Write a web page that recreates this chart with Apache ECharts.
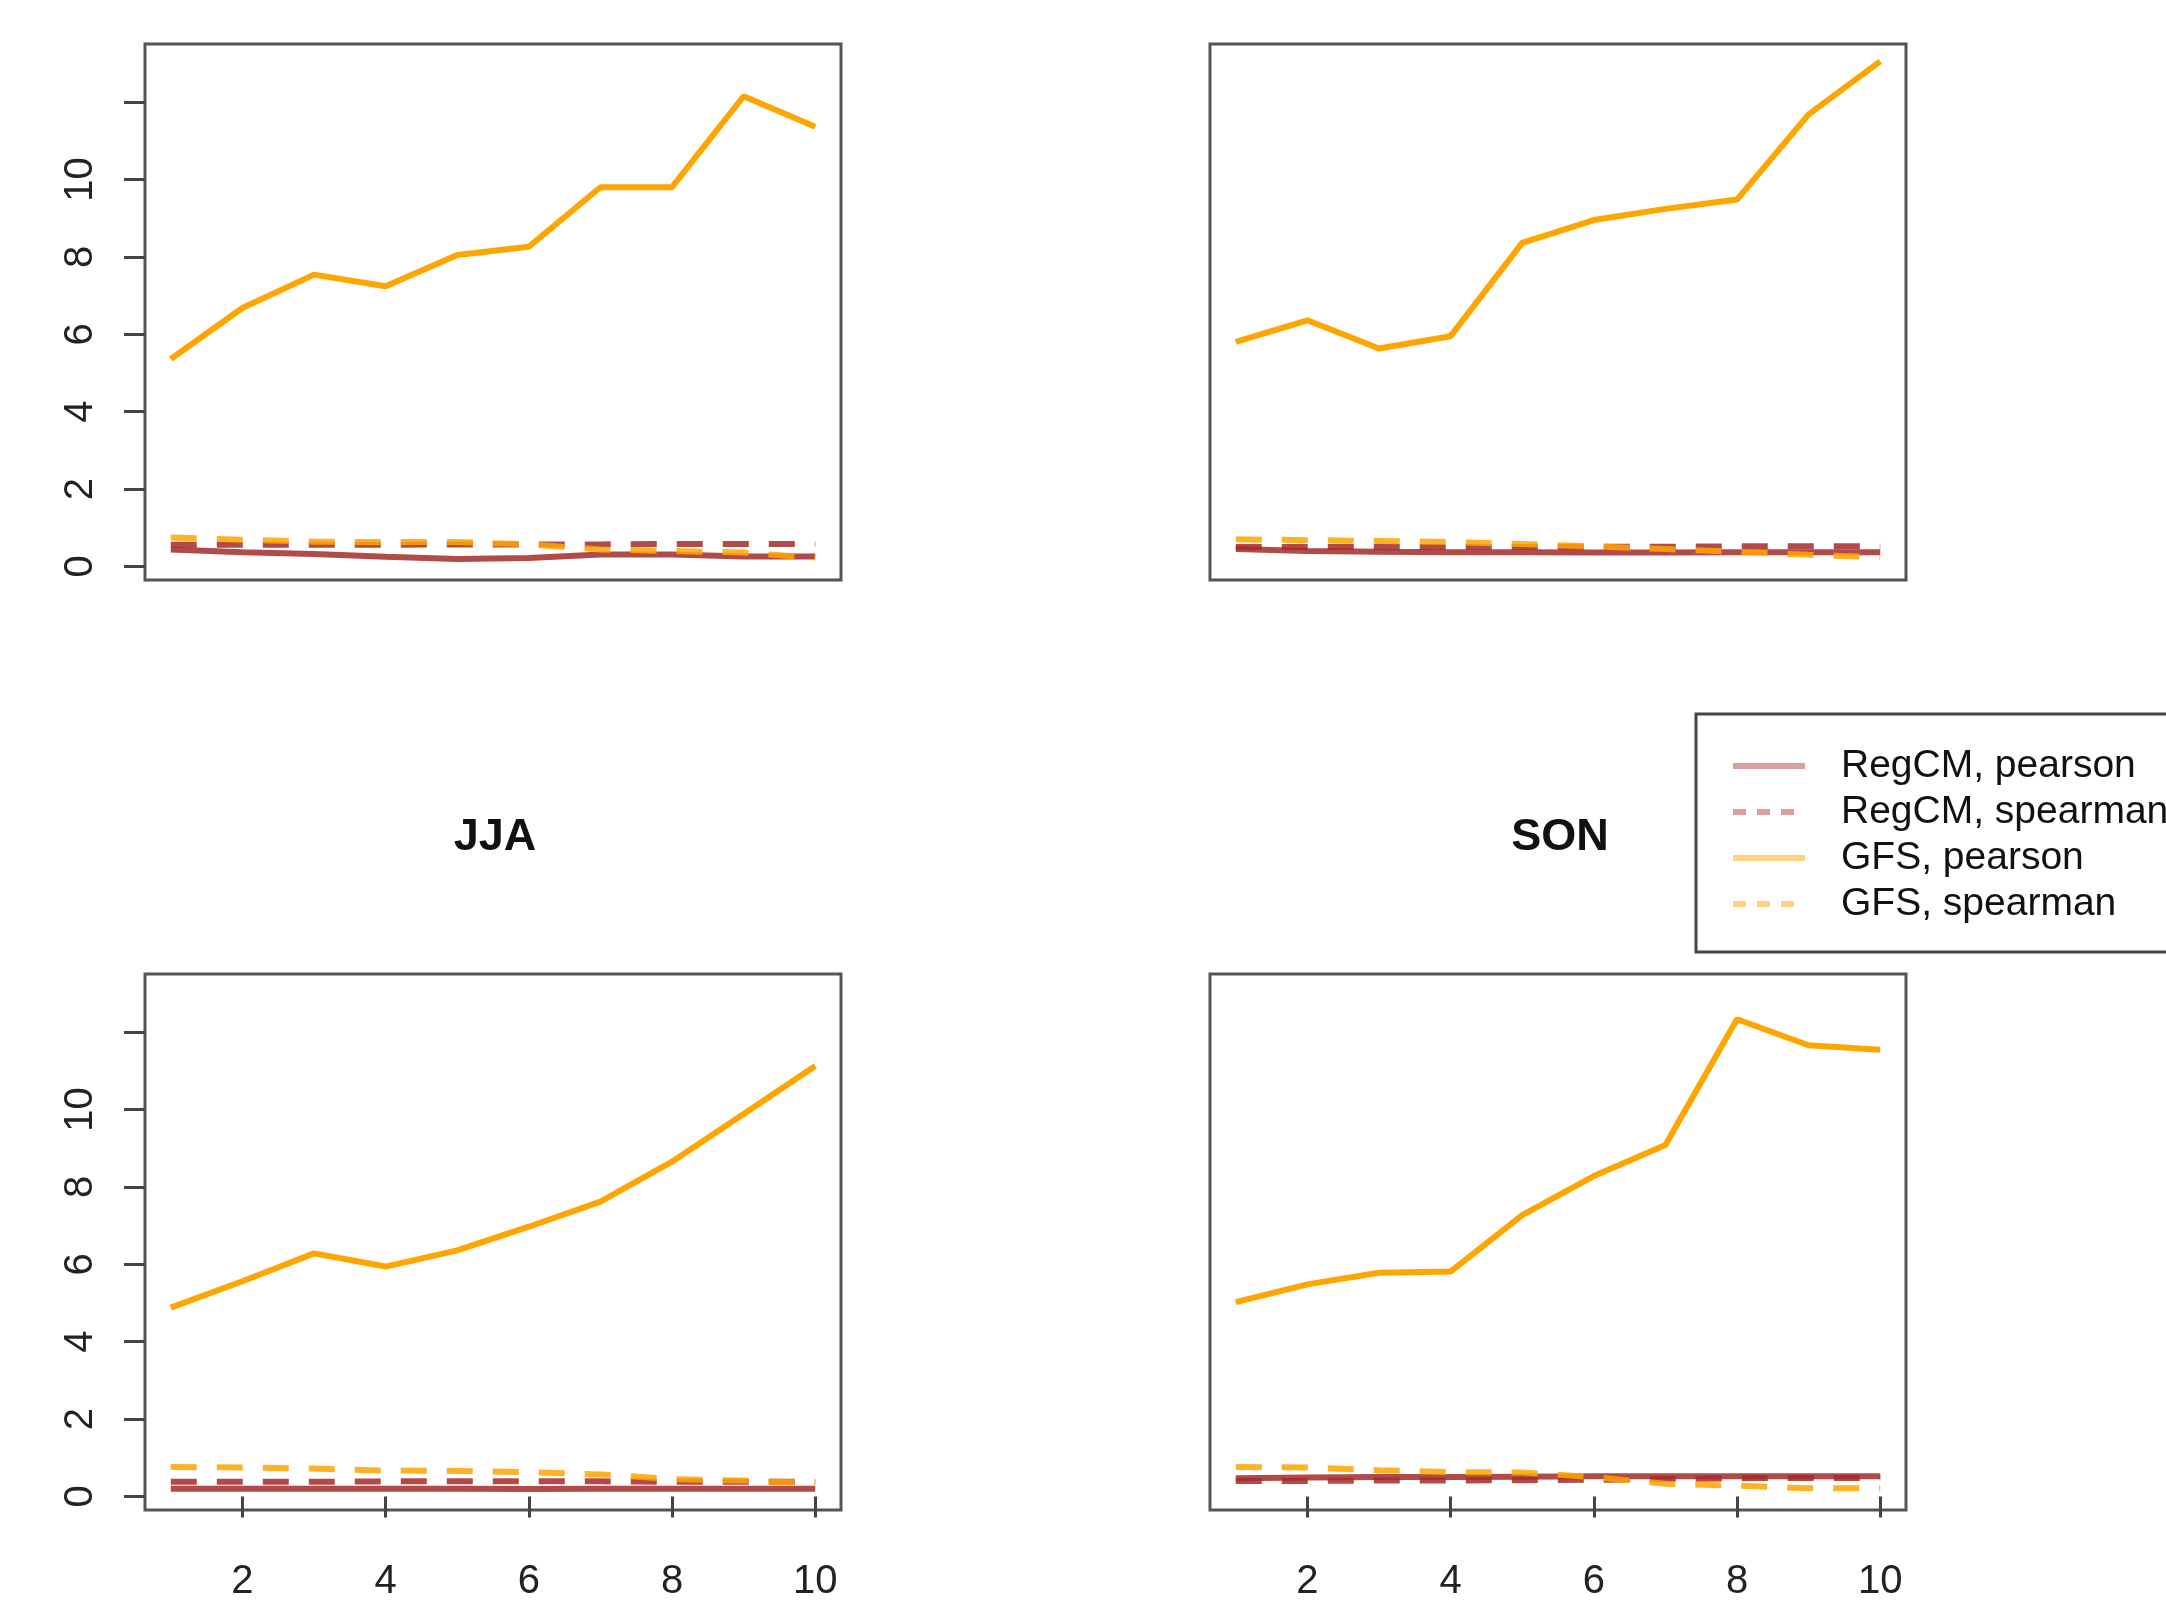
<!DOCTYPE html>
<html>
<head>
<meta charset="utf-8">
<script src="https://cdn.jsdelivr.net/npm/echarts@6/dist/echarts.min.js"></script>
<style>
  html, body { margin: 0; padding: 0; background: #fff; }
  #chart { width: 2166px; height: 1602px; }
</style>
</head>
<body>
<div id="chart"></div>
<script>
// x positions (lead / rank index)
var xs = [1, 2, 3, 4, 5, 6, 7, 8, 9, 10]

// top-left panel
var regPearson1 = [0.44, 0.37, 0.32, 0.25, 0.19, 0.22, 0.31, 0.31, 0.26, 0.26]
var regSpearman1 = [0.56, 0.56, 0.56, 0.56, 0.57, 0.57, 0.57, 0.58, 0.58, 0.58]
var gfsPearson1 = [5.36, 6.68, 7.54, 7.24, 8.05, 8.26, 9.8, 9.8, 12.15, 11.36]
var gfsSpearman1 = [0.75, 0.69, 0.64, 0.63, 0.63, 0.57, 0.44, 0.40, 0.36, 0.22]

// top-right panel
var regPearson2 = [0.45, 0.40, 0.38, 0.37, 0.37, 0.36, 0.36, 0.37, 0.37, 0.37]
var regSpearman2 = [0.50, 0.50, 0.50, 0.50, 0.50, 0.51, 0.51, 0.52, 0.52, 0.52]
var gfsPearson2 = [5.8, 6.36, 5.63, 5.95, 8.36, 8.95, 9.24, 9.48, 11.68, 13.05]
var gfsSpearman2 = [0.70, 0.68, 0.66, 0.63, 0.58, 0.52, 0.45, 0.38, 0.30, 0.24]

// JJA
var regPearson3 = [0.20, 0.20, 0.20, 0.20, 0.20, 0.19, 0.20, 0.20, 0.20, 0.20]
var regSpearman3 = [0.38, 0.38, 0.38, 0.39, 0.39, 0.39, 0.39, 0.38, 0.38, 0.38]
var gfsPearson3 = [4.88, 5.56, 6.28, 5.94, 6.36, 6.97, 7.62, 8.65, 9.88, 11.12]
var gfsSpearman3 = [0.76, 0.75, 0.72, 0.67, 0.66, 0.63, 0.57, 0.45, 0.41, 0.35]

// SON
var regPearson4 = [0.47, 0.49, 0.50, 0.50, 0.51, 0.52, 0.52, 0.52, 0.52, 0.52]
var regSpearman4 = [0.40, 0.40, 0.41, 0.41, 0.42, 0.43, 0.45, 0.47, 0.48, 0.48]
var gfsPearson4 = [5.02, 5.48, 5.78, 5.81, 7.27, 8.28, 9.08, 12.33, 11.66, 11.54]
var gfsSpearman4 = [0.76, 0.75, 0.68, 0.63, 0.62, 0.50, 0.33, 0.28, 0.21, 0.21]

var titles = ['', '', 'JJA', 'SON']
var yTicks = [0, 2, 4, 6, 8, 10, 12]
var yLabels = [0, 2, 4, 6, 8, 10]
var xTicks = [2, 4, 6, 8, 10]
var seriesNames = ['RegCM, pearson', 'RegCM, spearman', 'GFS, pearson', 'GFS, spearman']

var panels = [
  [regPearson1, regSpearman1, gfsPearson1, gfsSpearman1],
  [regPearson2, regSpearman2, gfsPearson2, gfsSpearman2],
  [regPearson3, regSpearman3, gfsPearson3, gfsSpearman3],
  [regPearson4, regSpearman4, gfsPearson4, gfsSpearman4]
]

var BROWN = '#A52A2A'
var ORANGE = '#FFA500'
var FONT = 'Liberation Sans'

var gridPos = [
  {left: 145, top: 44},
  {left: 1210, top: 44},
  {left: 145, top: 974},
  {left: 1210, top: 974}
]

var grids = [], xAxes = [], yAxes = [], series = [], titleList = []

for (var p = 0; p < 4; p++) {
  var showY = (p === 0 || p === 2)
  var showX = (p >= 2)
  grids.push({
    left: gridPos[p].left,
    top: gridPos[p].top,
    width: 696,
    height: 536,
    show: true,
    borderColor: '#555',
    borderWidth: 3,
    backgroundColor: 'transparent'
  })
  xAxes.push({
    type: 'value',
    gridIndex: p,
    min: 0.64,
    max: 10.36,
    splitLine: {show: false},
    axisLine: {show: false},
    axisTick: {show: showX, length: 21, lineStyle: {color: '#444', width: 3}, customValues: xTicks},
    axisLabel: {show: showX, customValues: xTicks, margin: 52, fontSize: 40, fontFamily: FONT, color: '#222'}
  })
  yAxes.push({
    type: 'value',
    gridIndex: p,
    min: -0.35,
    max: 13.5,
    splitLine: {show: false},
    axisLine: {show: false},
    axisTick: {show: showY, length: 21, lineStyle: {color: '#444', width: 3}, customValues: yTicks},
    axisLabel: {show: showY, customValues: yLabels, rotate: 90, margin: 44, fontSize: 40, fontFamily: FONT, color: '#222'}
  })
  if (titles[p]) {
    titleList.push({
      text: titles[p],
      left: gridPos[p].left + 345,
      top: 810,
      textAlign: 'center',
      textStyle: {fontSize: 45, fontWeight: 'bold', fontFamily: FONT, color: '#111'}
    })
  }
  var data = panels[p]
  for (var s = 0; s < 4; s++) {
    var isReg = s < 2
    var dashed = (s % 2 === 1)
    var big = (s === 2)
    series.push({
      name: seriesNames[s],
      type: 'line',
      xAxisIndex: p,
      yAxisIndex: p,
      symbol: 'none',
      data: xs.map(function (x, i) { return [x, data[s][i]] }),
      lineStyle: {
        color: isReg ? BROWN : ORANGE,
        width: 6,
        type: dashed ? [26, 20] : 'solid',
        opacity: big ? 1 : 0.85
      },
      z: 2 + s
    })
  }
}

var legendColors = ['#D9A0A0', '#D9A0A0', '#FFD27F', '#FFD27F']

var option = {
  backgroundColor: '#fff',
  animation: false,
  title: titleList,
  grid: grids,
  xAxis: xAxes,
  yAxis: yAxes,
  legend: {
    orient: 'vertical',
    left: 1696,
    top: 714,
    padding: [29, 40, 25, 34],
    borderColor: '#444',
    borderWidth: 3,
    itemWidth: 72,
    itemHeight: 14,
    itemGap: 0,
    selectedMode: false,
    itemStyle: {opacity: 0},
    textStyle: {fontSize: 39, fontFamily: FONT, color: '#111', lineHeight: 46, padding: [0, 0, 0, 31]},
    data: seriesNames.map(function (n, i) {
      return {
        name: n,
        itemStyle: {opacity: 0},
        lineStyle: {color: legendColors[i], width: 6, opacity: 1, type: (i % 2 === 1) ? [13, 11] : 'solid'}
      }
    })
  },
  series: series
}

var chart = echarts.init(document.getElementById('chart'))
chart.setOption(option)
</script>
</body>
</html>
